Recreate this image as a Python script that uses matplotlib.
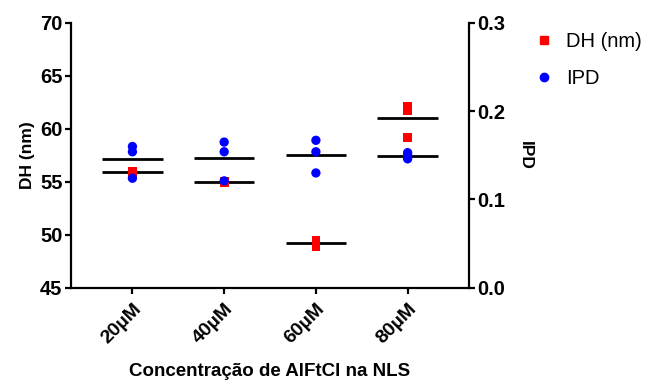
import matplotlib
matplotlib.use("Agg")
import matplotlib.pyplot as plt
import numpy as np

plt.rcParams['font.family'] = ['Liberation Sans', 'DejaVu Sans']

categories = ['20µM', '40µM', '60µM', '80µM']
dh_values = [
    [55.8, 56.0, 56.0],
    [55.0, 54.9, 54.9],
    [49.5, 49.3, 48.9],
    [62.1, 61.7, 59.2],
]
ipd_values = [
    [0.160, 0.154, 0.124],
    [0.165, 0.154, 0.121],
    [0.167, 0.154, 0.130],
    [0.153, 0.150, 0.146],
]

RED = '#ff0000'
BLUE = '#0000ff'

fig = plt.figure(figsize=(6.57, 3.83), dpi=100)
ax1 = fig.add_axes([0.108, 0.249, 0.606, 0.691])
ax2 = ax1.twinx()

x = np.arange(len(categories))
half = 0.33

# DH (left axis): replicates and mean lines
for i, vals in enumerate(dh_values):
    m = np.mean(vals)
    ax1.plot([x[i] - half, x[i] + half], [m, m], color='black', lw=2.0,
             solid_capstyle='butt', zorder=2)
    ax1.scatter([x[i]] * len(vals), vals, marker='s', s=40, color=RED,
                edgecolors='none', zorder=3)

# IPD (right axis): replicates and mean lines
for i, vals in enumerate(ipd_values):
    m = np.mean(vals)
    ax2.plot([x[i] - half, x[i] + half], [m, m], color='black', lw=2.0,
             solid_capstyle='butt', zorder=2)
    ax2.scatter([x[i]] * len(vals), vals, marker='o', s=45, color=BLUE,
                edgecolors='none', zorder=3)

ax1.set_xlim(-0.67, 3.67)
ax1.set_ylim(45, 70)
ax1.set_yticks([45, 50, 55, 60, 65, 70])
ax2.set_ylim(0, 0.3)
ax2.set_yticks([0.0, 0.1, 0.2, 0.3])
ax2.set_yticklabels(['0.0', '0.1', '0.2', '0.3'])

ax1.set_xticks(x)
ax1.set_xticklabels(categories, rotation=45, ha='right', rotation_mode='anchor',
                    fontsize=14, fontweight='bold')

for ax in (ax1, ax2):
    ax.spines['top'].set_visible(False)
    for s in ('left', 'right', 'bottom'):
        ax.spines[s].set_linewidth(1.6)
    ax.tick_params(width=1.6, length=4, labelsize=14.5)
    for lab in ax.get_yticklabels():
        lab.set_fontweight('bold')
ax1.spines['right'].set_visible(False)
ax2.spines['left'].set_visible(False)
ax2.spines['bottom'].set_visible(False)
ax1.tick_params(axis='x', pad=5, labelsize=14)
ax1.tick_params(axis='y', pad=2)
ax2.tick_params(axis='y', pad=2)

ax1.set_ylabel('DH (nm)', fontsize=12.5, fontweight='bold', labelpad=4)
ax2.set_ylabel('IPD', fontsize=12.5, fontweight='bold', rotation=270, labelpad=20)
ax1.set_xlabel('Concentração de AlFtCl na NLS', fontsize=13.5, fontweight='bold',
               labelpad=12)

handles = [
    plt.Line2D([], [], marker='s', color=RED, ls='none', markersize=6),
    plt.Line2D([], [], marker='o', color=BLUE, ls='none', markersize=6),
]
fig.legend(handles, ['DH (nm)', 'IPD'], loc='upper left',
           bbox_to_anchor=(0.785, 0.963), frameon=False, fontsize=14.5,
           handletextpad=0.6, labelspacing=0.9, handlelength=1.0)

fig.savefig('out.png', dpi=100)
